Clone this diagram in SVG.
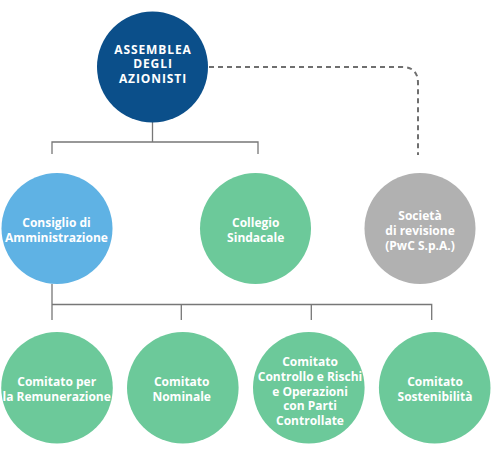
<svg xmlns="http://www.w3.org/2000/svg" width="492" height="457" viewBox="0 0 492 457">
<style>
text{font-family:"Open Sans","DejaVu Sans",sans-serif;font-weight:700;font-size:12px;fill:#fff;text-anchor:middle}
.caps{letter-spacing:0.9px}
.ln{fill:none;stroke:#777;stroke-width:1.3}
.dash{fill:none;stroke:#6f6f6f;stroke-width:2;stroke-dasharray:5 4}
.blue{fill:#0b4f8a}.lblue{fill:#5fb2e4}.green{fill:#6cc99a}.grey{fill:#b1b1b1}
</style>
<rect width="492" height="457" fill="#fff"/>
<g id="connectors">
<path class="ln" d="M152.5 122V142M52 154V142H258V154"/>
<path class="ln" d="M52 284V304.5M52 320V304.5H431.7V320M181.3 304.5V320M311.3 304.5V320"/>
<path class="dash" d="M209 67H402Q418 67 418 83V155"/>
</g>
<g id="assemblea">
<circle class="blue" cx="152.5" cy="67" r="55.5"/>
<text class="caps" x="153" y="54.3">ASSEMBLEA</text>
<text class="caps" x="153" y="68.3">DEGLI</text>
<text class="caps" x="153" y="83.3">AZIONISTI</text>
</g>
<g id="consiglio">
<circle class="lblue" cx="57" cy="228.5" r="55.5"/>
<text x="56.5" y="226.7">Consiglio di</text>
<text x="56.5" y="241.7">Amministrazione</text>
</g>
<g id="collegio">
<circle class="green" cx="255.5" cy="228.5" r="55.5"/>
<text x="255.7" y="226.7">Collegio</text>
<text x="255.7" y="241.7">Sindacale</text>
</g>
<g id="societa">
<circle class="grey" cx="420" cy="228.5" r="55.5"/>
<text x="420" y="220">Società</text>
<text x="420" y="234.8">di revisione</text>
<text x="420" y="249.5">(PwC S.p.A.)</text>
</g>
<g id="remunerazione">
<circle class="green" cx="57" cy="387.8" r="55.8"/>
<text x="56.7" y="385.7">Comitato per</text>
<text x="56.7" y="400.7">la Remunerazione</text>
</g>
<g id="nominale">
<circle class="green" cx="182.8" cy="387.8" r="55.8"/>
<text x="181.7" y="385.7">Comitato</text>
<text x="181.7" y="400.7">Nominale</text>
</g>
<g id="controllo">
<circle class="green" cx="308.8" cy="387.8" r="55.8"/>
<text x="310" y="365.7">Comitato</text>
<text x="310" y="380.6">Controllo e Rischi</text>
<text x="310" y="395.5">e Operazioni</text>
<text x="310" y="410.4">con Parti</text>
<text x="310" y="425.3">Controllate</text>
</g>
<g id="sostenibilita">
<circle class="green" cx="434.7" cy="387.8" r="55.8"/>
<text x="435" y="385.7">Comitato</text>
<text x="435" y="400.7">Sostenibilità</text>
</g>
</svg>
